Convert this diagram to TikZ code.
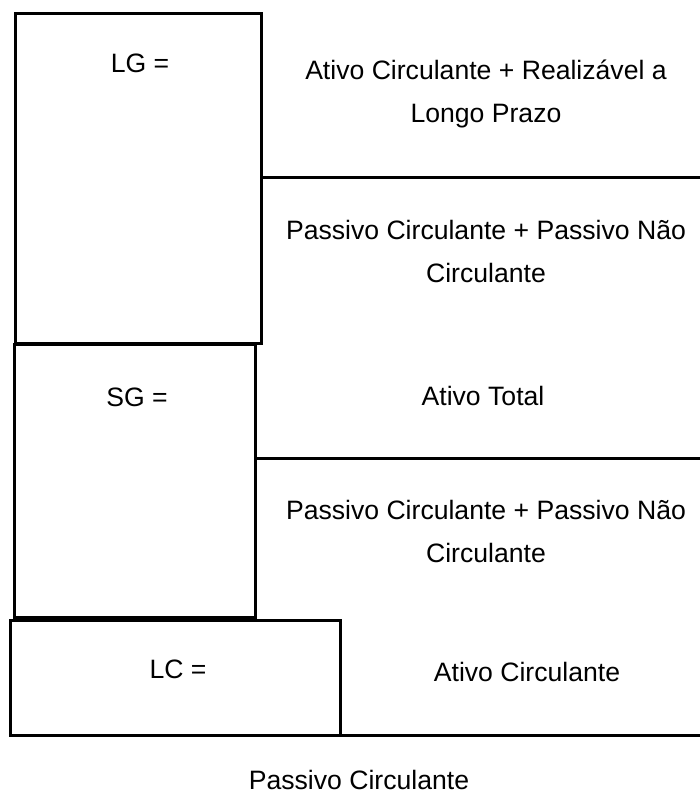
\documentclass[tikz,border=0pt]{standalone}
\usepackage{fontspec}
\setmainfont{Liberation Sans}
\usetikzlibrary{positioning}
\begin{document}
\begin{tikzpicture}[x=0.5pt,y=-0.5pt,line width=1.5pt,
lbl/.style={font=\fontsize{13.3}{21.5}\selectfont,align=center,inner sep=0pt}]
\useasboundingbox (0,0) rectangle (700,793);
\draw (15,13) rectangle (261,343) (261,177.5)--(700,177.5);
\draw (14,344) rectangle (255.5,617) (255.5,458)--(700,458);
\draw (10,620) rectangle (340.5,735) (340.5,735)--(700,735);
\node[lbl](lg)at(140,63){LG =};
\node[lbl](lgnum)at(486,93.5){Ativo Circulante + Realizável a\\Longo Prazo};
\node[lbl](lgden)at(486,251.5){Passivo Circulante + Passivo Não\\Circulante};
\node[lbl](sg)at(137,397){SG =};
\node[lbl](sgnum)at(483,396){Ativo Total};
\node[lbl](sgden)at(486,531){Passivo Circulante + Passivo Não\\Circulante};
\node[lbl](lc)at(178,669){LC =};
\node[lbl](lcnum)at(527,672){Ativo Circulante};
\node[lbl](lcden)at(359,780){Passivo Circulante};
\end{tikzpicture}
\end{document}
